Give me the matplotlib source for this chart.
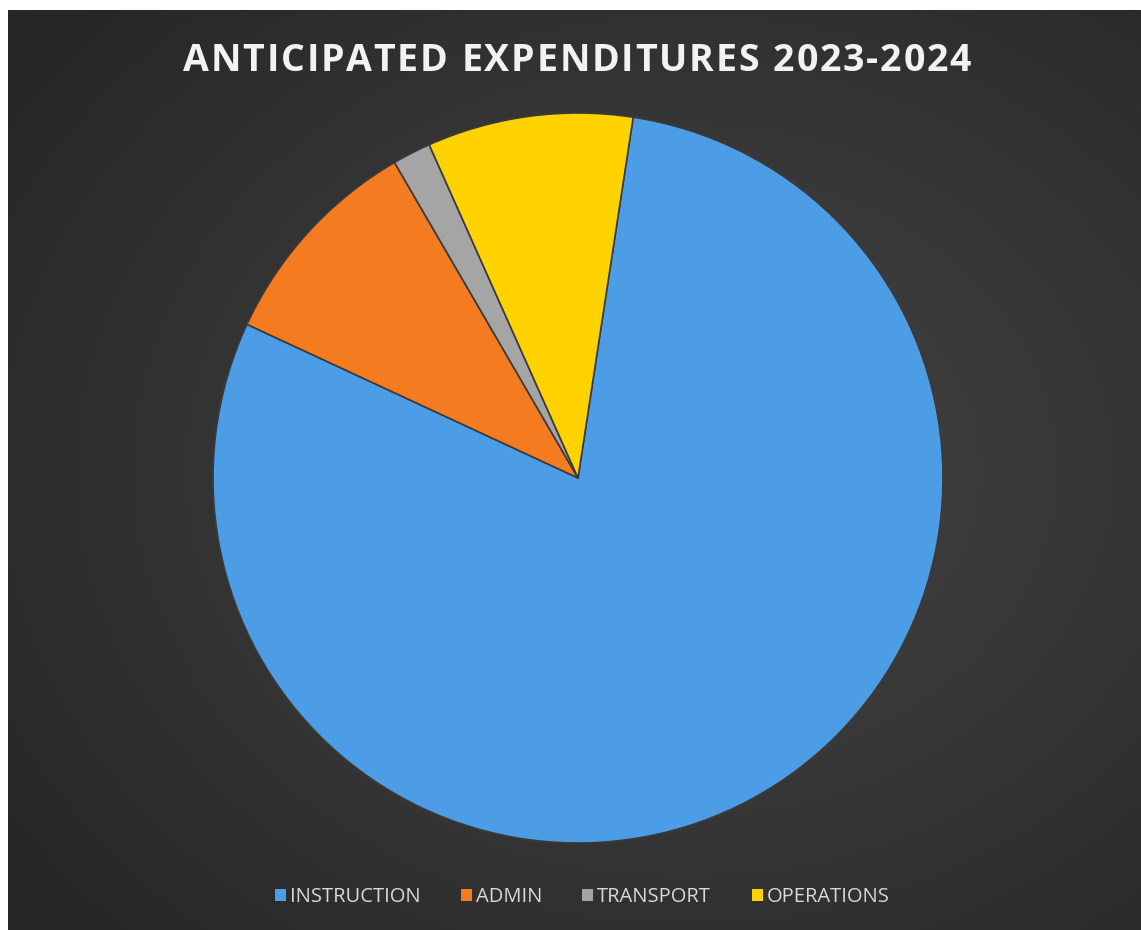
import matplotlib.pyplot as plt
import numpy as np
from matplotlib.patches import Patch

# データ
labels = ["INSTRUCTION", "ADMIN", "TRANSPORT", "OPERATIONS"]
values = [79.5, 9.7, 1.7, 9.1]
colors = ["#4d9de6", "#f47b20", "#a5a5a5", "#ffd200"]
title = "ANTICIPATED EXPENDITURES 2023-2024"

W, H = 1141, 930
fig = plt.figure(figsize=(W / 100, H / 100), dpi=100, facecolor="white")

# 背景（放射グラデーション）
bg = fig.add_axes([8 / W, 0, (W - 8) / W, (H - 10) / H])
yy, xx = np.mgrid[0:1:400j, 0:1:500j]
r = np.sqrt(((xx - 0.6) / 0.75) ** 2 + ((yy - 0.5) / 0.75) ** 2)
r = np.clip(r, 0, 1)
c0 = np.array([0x46, 0x46, 0x46]) / 255
c1 = np.array([0x26, 0x26, 0x26]) / 255
img = c0[None, None, :] * (1 - r[..., None]) + c1[None, None, :] * r[..., None]
bg.imshow(img, aspect="auto", extent=[0, 1, 0, 1], origin="lower")
bg.set_axis_off()

# 円グラフ
cx, cy, rad = 578, H - 478, 365
ax = fig.add_axes([(cx - rad) / W, (cy - rad) / H, 2 * rad / W, 2 * rad / H])
ax.pie(values, colors=colors, startangle=81.3, counterclock=False,
       wedgeprops=dict(edgecolor="#3a3a3a", linewidth=1.2), radius=1.0)
ax.set_xlim(-1.0, 1.0)
ax.set_ylim(-1.0, 1.0)
ax.set_aspect("equal")
ax.set_axis_off()

# タイトル（字間を広げて1文字ずつ配置）
renderer = fig.canvas.get_renderer()
spacing = 1.8  # px
tkw = dict(fontsize=27, fontweight="bold", color="#f2f2f2", family="Open Sans",
           va="center", ha="left")
widths = []
for ch in title:
    t = fig.text(0, 0, ch if ch != " " else "a", **tkw)
    w = t.get_window_extent(renderer).width
    if ch == " ":
        w *= 0.45
    widths.append(w)
    t.remove()
total = sum(widths) + spacing * (len(title) - 1)
x = 577 - total / 2
for ch, w in zip(title, widths):
    if ch != " ":
        fig.text(x / W, 1 - 61 / H, ch, **tkw)
    x += w + spacing

# 凡例
handles = [Patch(facecolor=c, edgecolor="none") for c in colors]
fig.legend(handles, labels, loc="center", bbox_to_anchor=(582 / W, 1 - 897 / H),
           ncol=4, frameon=False, labelcolor="#d9d9d9",
           handlelength=0.55, handleheight=0.55, handletextpad=0.2,
           columnspacing=2.0, prop=dict(family="Open Sans", size=14.5))

fig.savefig("out.png", dpi=100, facecolor="white")
